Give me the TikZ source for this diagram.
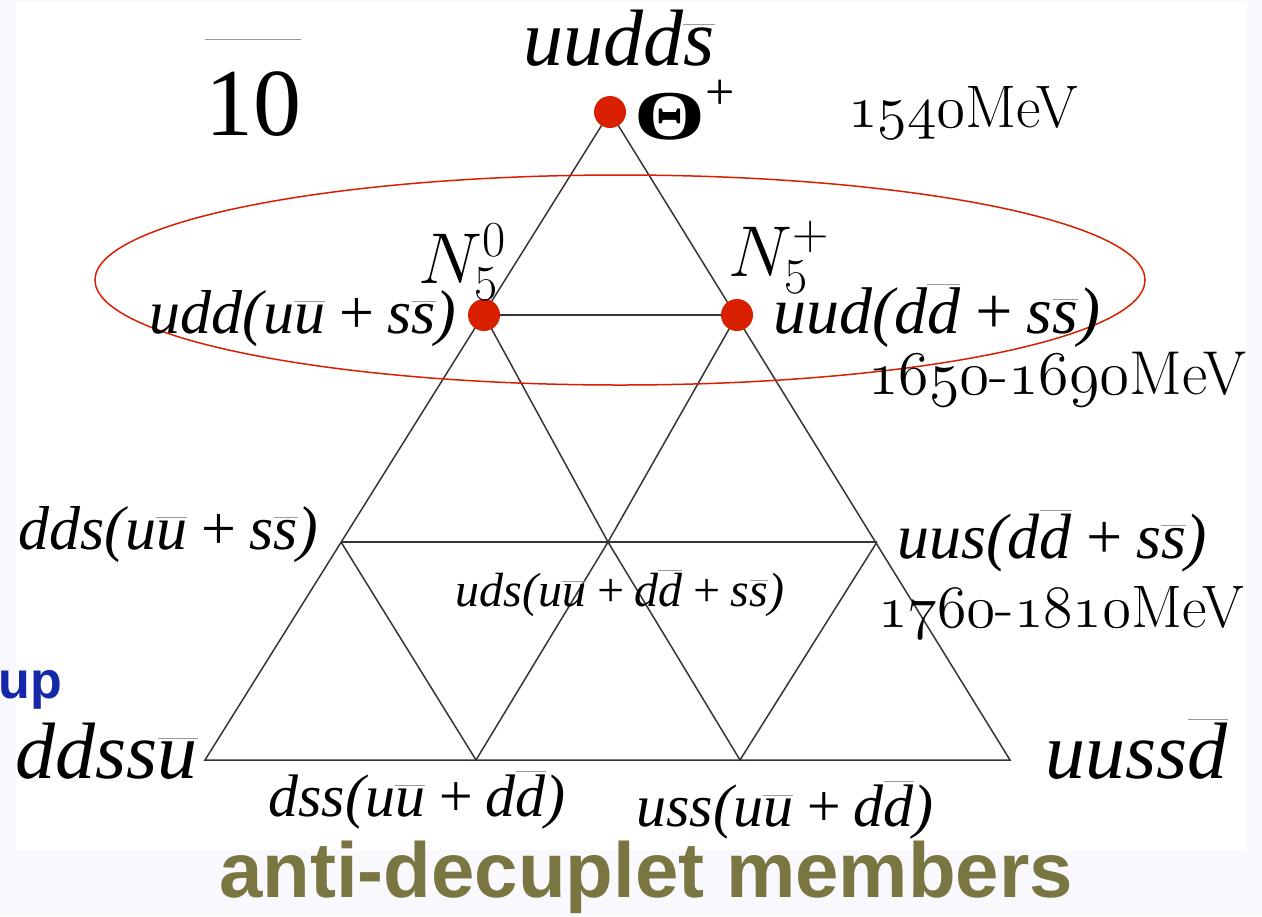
\documentclass[tikz,border=0pt]{standalone}
\usepackage{fix-cm}
\usepackage{fontspec}
\newfontfamily\tms{Liberation Serif}
\newfontfamily\arl{Liberation Sans}
\usetikzlibrary{positioning}
\definecolor{ink}{HTML}{3A3333}
\definecolor{dotred}{HTML}{D82000}
\definecolor{olive}{HTML}{7A7642}
\definecolor{upblue}{HTML}{1428A8}
\definecolor{pagebg}{HTML}{F8F8FD}
\definecolor{bargrey}{HTML}{9A9A9A}
% antiquark bar over one letter
\newcommand{\qb}[1]{$\color{bargrey}\overline{\mbox{\color{black}#1}}$}
% old style numbers for the masses
\newcommand{\mev}[1]{$\mathnormal{#1}$}

\begin{document}
\begin{tikzpicture}[x=0.5pt,y=-0.5pt,
    edge/.style={draw=ink,line width=0.75pt},
    dot/.style={circle,fill=dotred,inner sep=0pt,minimum size=16pt},
    quark/.style={inner sep=0pt,font=\tms\itshape\fontsize{31}{31}\selectfont},
    bigquark/.style={inner sep=0pt,font=\tms\itshape\fontsize{40}{40}\selectfont},
    mass/.style={inner sep=0pt,font=\fontsize{30}{30}\selectfont}]
  \useasboundingbox (0,0) rectangle (1262,916);
  \fill[pagebg] (0,0) rectangle (1262,916);
  \fill[white] (16,2) rectangle (1247,850);

  % weight diagram
  \coordinate (top) at (610,112);
  \coordinate (n0) at (484,315);
  \coordinate (np) at (737,315);
  \coordinate (l3) at (341,542);
  \coordinate (m3) at (608,542);
  \coordinate (r3) at (877,542);
  \coordinate (b1) at (205,760);
  \coordinate (b2) at (476,760);
  \coordinate (b3) at (740,760);
  \coordinate (b4) at (1010,760);

  \draw[edge] (top) -- (b1) -- (b4) -- cycle;
  \draw[edge] (n0) -- (np);
  \draw[edge] (l3) -- (r3);
  \draw[edge] (n0) -- (m3) -- (b3);
  \draw[edge] (np) -- (m3) -- (b2);
  \draw[edge] (l3) -- (b2);
  \draw[edge] (r3) -- (b3);

  \draw[dotred,line width=0.75pt] (620,280) ellipse [x radius=525,y radius=105];

  \node[dot] (theta) at (top) {};
  \node[dot] (nzero) at (n0) {};
  \node[dot] (nplus) at (np) {};

  % labels
  \node[anchor=base west,inner sep=0pt,font=\tms\fontsize{48}{48}\selectfont] (ten)
       at (205,135) {$\color{bargrey}\overline{\mbox{\color{black}\rule{0pt}{0.97em}10}}$};
  \node[bigquark,anchor=base west] (pentaq) at (523,65) {uudd\qb{s}};
  \node[anchor=base west,inner sep=0pt,font=\tms\bfseries\fontsize{35}{35}\selectfont]
       (thlab) at (634,139) {\scalebox{1.3}[1]{Θ}\raisebox{15pt}{\fontsize{26}{26}\selectfont\mdseries +}};
  \node[mass,anchor=base west] (m1540) at (848,127) {\mev{1540}MeV};

  \node[anchor=base west,inner sep=0pt,font=\fontsize{36}{36}\selectfont] (nzlab)
       at (418,283) {$N_5^0$};
  \node[anchor=base west,inner sep=0pt,font=\fontsize{36}{36}\selectfont] (nplab)
       at (728,276) {$N_5^+$};
  \node[quark,anchor=base east] (udd) at (457,333) {udd(u\qb{u}\,+\,s\qb{s})};
  \node[quark,anchor=base west,font=\tms\itshape\fontsize{33}{33}\selectfont] (uud)
       at (773,333) {uud(d\qb{d}\,+\,s\qb{s})};
  \node[mass,anchor=base west,font=\fontsize{31}{31}\selectfont] (m1650)
       at (868,394) {\mev{1650}-\mev{1690}MeV};

  \node[quark,anchor=base west] (dds) at (18,549) {dds(u\qb{u}\,+\,s\qb{s})};
  \node[quark,anchor=base west,font=\tms\itshape\fontsize{32}{32}\selectfont] (uus)
       at (897,558) {uus(d\qb{d}\,+\,s\qb{s})};
  \node[quark,anchor=base west,font=\tms\itshape\fontsize{24}{24}\selectfont] (uds)
       at (455,606) {uds(u\qb{u}\,+\,d\qb{d}\,+\,s\qb{s})};
  \node[mass,anchor=base west] (m1760) at (878,627) {\mev{1760}-\mev{1810}MeV};

  \node[anchor=base west,inner sep=0pt,text=upblue,font=\arl\bfseries\fontsize{26}{26}\selectfont]
       (up) at (-2,698) {up};

  \node[bigquark,anchor=base west] (ddssu) at (15,778) {ddss\qb{u}};
  \node[bigquark,anchor=base west] (uussd) at (1045,778) {uuss\qb{d}};
  \node[quark,anchor=base west,font=\tms\itshape\fontsize{30}{30}\selectfont] (dss)
       at (268,816) {dss(u\qb{u}\,+\,d\qb{d})};
  \node[quark,anchor=base west,font=\tms\itshape\fontsize{30}{30}\selectfont] (uss)
       at (636,826) {uss(u\qb{u}\,+\,d\qb{d})};

  \node[anchor=base,inner sep=0pt,text=olive,font=\arl\bfseries\fontsize{39}{39}\selectfont]
       (title) at (646,897) {anti-decuplet members};
\end{tikzpicture}
\end{document}
